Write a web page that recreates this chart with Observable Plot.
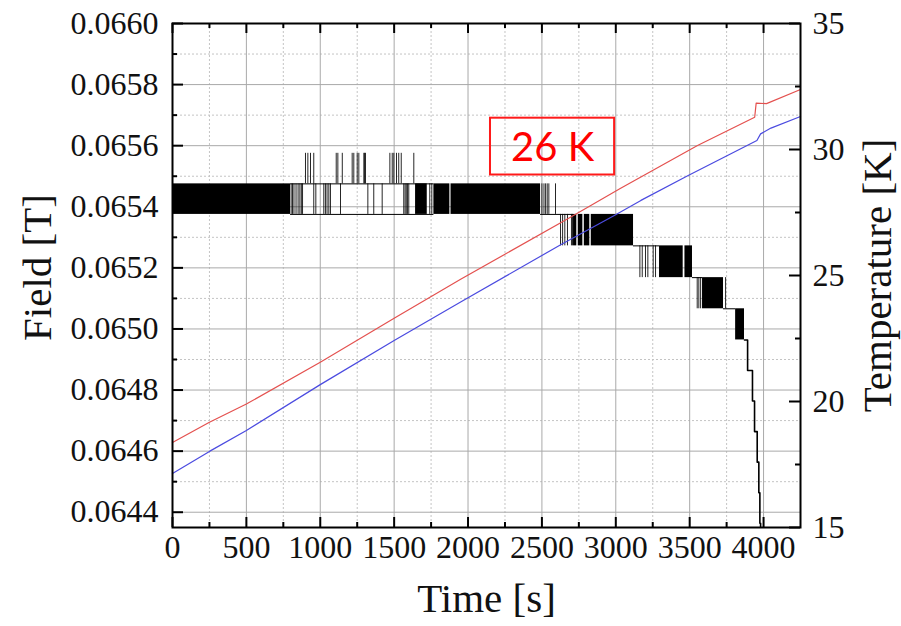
<!DOCTYPE html>
<html><head><meta charset="utf-8">
<script src="https://cdn.jsdelivr.net/npm/d3@7"></script>
<script src="https://cdn.jsdelivr.net/npm/@observablehq/plot@0.6"></script>
<style>body{margin:0;background:#fff;}svg{display:block;}</style>
</head><body><div id="chart"></div>
<script>
// ---------- axes ----------
const timeTicks = [0, 500, 1000, 1500, 2000, 2500, 3000, 3500, 4000];
const timeMinorTicks = [250, 750, 1250, 1750, 2250, 2750, 3250, 3750];
const timeGridMinor = [250, 750, 1250, 1750, 2250, 2750, 3250, 3750, 4250];
const fieldTicks = [0.0644, 0.0646, 0.0648, 0.0650, 0.0652, 0.0654, 0.0656, 0.0658, 0.0660];
const fieldMinorTicks = [0.0645, 0.0647, 0.0649, 0.0651, 0.0653, 0.0655, 0.0657, 0.0659];
const tempTicks = [15, 20, 25, 30, 35];
const tempMinorTicks = [17.5, 22.5, 27.5, 32.5];
const xDomain = [0, 4250];
const fieldDomain = [0.06435, 0.0660];
const tempDomain = [15, 35];

// ---------- temperature curves (right axis) ----------
const redTime = [0, 250, 500, 1000, 1500, 1950, 2690, 3030, 3553, 3940, 3950, 4020, 4250];
const redTemp = [18.37, 19.18, 19.9, 21.56, 23.3, 24.85, 27.3, 28.45, 30.16, 31.28, 31.84, 31.82, 32.38];
const blueTime = [0, 250, 500, 1000, 1500, 1950, 2630, 2990, 3170, 3490, 3955, 3980, 4050, 4250];
const blueTemp = [17.14, 18.02, 18.85, 20.67, 22.42, 23.95, 26.23, 27.38, 27.98, 28.97, 30.36, 30.62, 30.85, 31.31];

// ---------- field signal (left axis), quantised levels ----------
const fieldLevels = [0.065575, 0.065475, 0.065375, 0.065272, 0.065168, 0.065066, 0.064964];
// dense toggling blocks: start, end, upper level index (lower = next level)
const blockStart = [0, 1645, 1769, 1885, 2714, 2746, 2787, 2834, 3296, 3468, 3587, 3811];
const blockEnd   = [799, 1724, 1877, 2491, 2736, 2777, 2824, 3120, 3456, 3519, 3729, 3871];
const blockLevel = [1, 1, 1, 1, 2, 2, 2, 2, 3, 3, 4, 5];
// isolated toggles between neighbouring levels
const togglesUp    = [900, 916, 934, 956, 1108, 1119, 1149, 1216, 1227, 1250, 1261, 1295, 1300, 1306, 1471, 1487, 1498, 1516, 1531, 1548, 1633]; // 0 <-> 1
const togglesBand1 = [803, 812, 822, 836, 850, 862, 872, 880, 956, 970, 1024, 1035, 1046, 1058, 1069, 1137, 1322, 1362, 1419, 1565, 1574, 1582, 1590, 1599, 1741, 1755, 2500, 2514, 2525, 2536, 2547, 2592]; // 1 <-> 2
const togglesBand2 = [2626, 2640, 2655, 2673, 2700, 2707]; // 2 <-> 3
const togglesBand3 = [3163, 3179, 3201, 3217, 3253, 3269]; // 3 <-> 4
const togglesBand4 = [3551, 3562, 3574, 3743]; // 4 <-> 5
// steady holds between blocks
const holdStart = [799, 799, 2491, 3120, 3519, 3729];
const holdEnd   = [1769, 1769, 2714, 3296, 3587, 3811];
const holdLevel = [0.065475, 0.065375, 0.065375, 0.065272, 0.065168, 0.065066];
// final descent
const tailTime  = [3871, 3892, 3925, 3939, 3957, 3968, 3975, 3980, 3990];
const tailField = [0.064964, 0.064864, 0.064764, 0.064664, 0.064564, 0.064464, 0.064364, 0.064264, 0.064164];

// annotation
const boxTime = [2152, 2992];
const boxField = [0.065504, 0.065690];
const boxLabel = "26 K";

// ---------- build ----------
const t2f = d3.scaleLinear().domain(tempDomain).range(fieldDomain);
const red = redTime.map((t, i) => ({t, f: t2f(redTemp[i])}));
const blue = blueTime.map((t, i) => ({t, f: t2f(blueTemp[i])}));
const blocks = blockStart.map((s, i) => ({s, e: blockEnd[i], hi: fieldLevels[blockLevel[i]], lo: fieldLevels[blockLevel[i] + 1]}));
const toggles = [];
[[togglesUp, 0], [togglesBand1, 1], [togglesBand2, 2], [togglesBand3, 3], [togglesBand4, 4]].forEach(([arr, k]) =>
  arr.forEach(t => toggles.push({t, hi: fieldLevels[k], lo: fieldLevels[k + 1]})));
const holds = holdStart.map((s, i) => ({s, e: holdEnd[i], f: holdLevel[i]}));
const tail = tailTime.map((t, i) => ({t, f: tailField[i]}));
const box = [{t0: boxTime[0], t1: boxTime[1], f0: boxField[0], f1: boxField[1]}];

const W = 901, H = 626, ML = 172, MR = 101, MT = 23, MB = 99;
const FW = W - ML - MR, FH = H - MT - MB;
const serif = "Liberation Serif, Times New Roman, serif";
const fmt = d3.format(".4f");

const chart = Plot.plot({
  width: W, height: H,
  marginLeft: ML, marginRight: MR, marginTop: MT, marginBottom: MB,
  x: {domain: xDomain, axis: null},
  y: {domain: fieldDomain, axis: null},
  style: {background: "#fff"},
  marks: [
    // grid
    Plot.ruleY(fieldMinorTicks, {y: d => d, stroke: "#c4c4c4", strokeDasharray: "2,2"}),
    Plot.ruleX(timeGridMinor, {x: d => d, stroke: "#c4c4c4", strokeDasharray: "2,2"}),
    Plot.ruleY(fieldTicks, {y: d => d, stroke: "#a9a9a9"}),
    Plot.ruleX(timeTicks, {x: d => d, stroke: "#a9a9a9"}),
    // field signal
    Plot.rect(blocks, {x1: "s", x2: "e", y1: "lo", y2: "hi", fill: "black"}),
    Plot.ruleX(toggles, {x: "t", y1: "lo", y2: "hi", stroke: "black", strokeWidth: 1, strokeOpacity: 0.85}),
    Plot.ruleY(holds, {y: "f", x1: "s", x2: "e", stroke: "black", strokeWidth: 1}),
    Plot.line(tail, {x: "t", y: "f", curve: "step-after", stroke: "black", strokeWidth: 1.6, clip: true}),
    // temperatures
    Plot.line(red, {x: "t", y: "f", stroke: "#e4514f", strokeWidth: 1.2}),
    Plot.line(blue, {x: "t", y: "f", stroke: "#4b4be0", strokeWidth: 1.2}),
    // annotation
    Plot.rect(box, {x1: "t0", x2: "t1", y1: "f0", y2: "f1", fill: "none", stroke: "#ff1a1a", strokeWidth: 2}),
    Plot.text(box, {x: d => (d.t0 + d.t1) / 2, y: d => (d.f0 + d.f1) / 2, text: () => boxLabel, fill: "#ff0000", fontSize: 40, fontFamily: "Lato, Noto Sans, sans-serif", dy: 2}),
    // ticks (inward)
    Plot.tickY(fieldTicks, {y: d => d, insetRight: FW - 11, stroke: "black", strokeWidth: 2}),
    Plot.tickY(fieldMinorTicks, {y: d => d, insetRight: FW - 5, stroke: "black", strokeWidth: 2}),
    Plot.tickY(tempTicks, {y: d => t2f(d), insetLeft: FW - 11, stroke: "black", strokeWidth: 2}),
    Plot.tickY(tempMinorTicks, {y: d => t2f(d), insetLeft: FW - 5, stroke: "black", strokeWidth: 2}),
    Plot.tickX(timeTicks, {x: d => d, insetTop: FH - 10, stroke: "black", strokeWidth: 2}),
    Plot.tickX(timeMinorTicks, {x: d => d, insetTop: FH - 5, stroke: "black", strokeWidth: 2}),
    Plot.tickX(timeTicks, {x: d => d, insetBottom: FH - 10, stroke: "black", strokeWidth: 2}),
    Plot.tickX(timeMinorTicks, {x: d => d, insetBottom: FH - 5, stroke: "black", strokeWidth: 2}),
    Plot.frame({stroke: "black", strokeWidth: 2}),
    // tick labels
    Plot.text(fieldTicks, {y: d => d, frameAnchor: "left", text: d => fmt(d), textAnchor: "end", dx: -14, fontSize: 32, fontFamily: serif, fill: "#111"}),
    Plot.text(tempTicks, {y: d => t2f(d), frameAnchor: "right", text: d => String(d), textAnchor: "start", dx: 12, fontSize: 32, fontFamily: serif, fill: "#111"}),
    Plot.text(timeTicks, {x: d => d, frameAnchor: "bottom", text: d => String(d), dy: 30, fontSize: 32, fontFamily: serif, fill: "#111"}),
    // axis titles
    Plot.text(["Time [s]"], {frameAnchor: "bottom", text: d => d, textAnchor: "middle", dy: 84, fontSize: 41, fontFamily: serif, fill: "#111"}),
    Plot.text(["Field [T]"], {frameAnchor: "left", text: d => d, textAnchor: "middle", rotate: -90, dx: -135, dy: -8, fontSize: 41, fontFamily: serif, fill: "#111"}),
    Plot.text(["Temperature [K]"], {frameAnchor: "right", text: d => d, textAnchor: "middle", rotate: -90, dx: 77, fontSize: 41, fontFamily: serif, fill: "#111"})
  ]
});
document.getElementById("chart").appendChild(chart);
</script>
</body></html>
